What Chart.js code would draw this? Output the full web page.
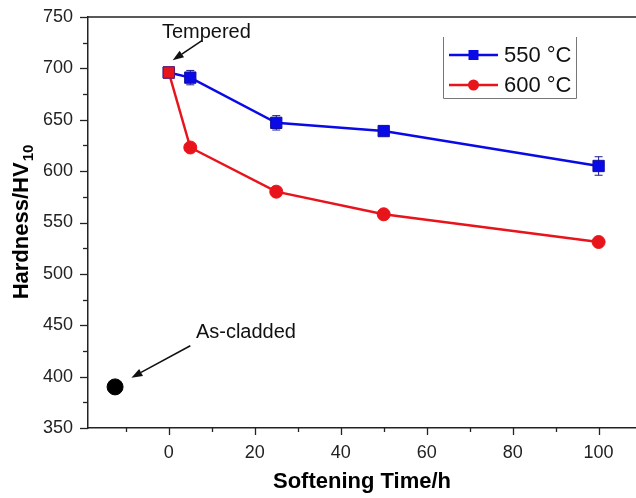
<!DOCTYPE html>
<html>
<head>
<meta charset="utf-8">
<script src="https://cdn.jsdelivr.net/npm/chart.js@4/dist/chart.umd.min.js"></script>
<style>
html,body{margin:0;padding:0;background:#fff;overflow:hidden;}
#wrap{width:636px;height:498px;position:relative;}
</style>
</head>
<body>
<div id="wrap"><canvas id="c" width="636" height="498"></canvas></div>
<script>
// ---- data ----
const softeningTime = [0, 5, 25, 50, 100];
const hardness550 = [696, 691, 647, 639, 605];
const error550 = [3, 7, 7, 3, 9];
const hardness600 = [696, 623, 580, 558, 531];
const error600 = [3, 3, 3, 3, 3];
const asCladdedTime = [-12.5];
const asCladdedHardness = [390];
const xTickLabels = [0, 20, 40, 60, 80, 100];
const yTickLabels = [350, 400, 450, 500, 550, 600, 650, 700, 750];
const seriesNames = ['550 °C', '600 °C'];
const xTitle = 'Softening Time/h';
const yTitleMain = 'Hardness/HV';
const yTitleSub = '10';
const noteTempered = 'Tempered';
const noteAsCladded = 'As-cladded';

const FONT = '"Liberation Sans", Arial, sans-serif';
const BLUE = '#0a0ae6';
const RED = '#e8141c';

const pts = (xs, ys) => xs.map((x, i) => ({x: x, y: ys[i]}));

function arrow(ctx, x1, y1, x2, y2) {
  const ang = Math.atan2(y2 - y1, x2 - x1);
  const hl = 11, hw = 4;
  const bx = x2 - hl * Math.cos(ang), by = y2 - hl * Math.sin(ang);
  ctx.beginPath();
  ctx.moveTo(x1, y1);
  ctx.lineTo(bx, by);
  ctx.stroke();
  ctx.beginPath();
  ctx.moveTo(x2, y2);
  ctx.lineTo(bx + hw * Math.sin(ang), by - hw * Math.cos(ang));
  ctx.lineTo(bx - hw * Math.sin(ang), by + hw * Math.cos(ang));
  ctx.closePath();
  ctx.fill();
}

const decorPlugin = {
  id: 'decor',
  beforeDatasetsDraw(chart) {
    const ctx = chart.ctx, xs = chart.scales.x, ys = chart.scales.y;
    ctx.save();
    ctx.lineWidth = 1;
    const sets = [[hardness550, error550, '#1c1c8c'], [hardness600, error600, '#8c1c1c']];
    sets.forEach(([vals, errs, col]) => {
      ctx.strokeStyle = col;
      vals.forEach((v, i) => {
        const px = xs.getPixelForValue(softeningTime[i]);
        const top = ys.getPixelForValue(v + errs[i]);
        const bot = ys.getPixelForValue(v - errs[i]);
        ctx.beginPath();
        ctx.moveTo(px, top); ctx.lineTo(px, bot);
        ctx.moveTo(px - 4, top); ctx.lineTo(px + 4, top);
        ctx.moveTo(px - 4, bot); ctx.lineTo(px + 4, bot);
        ctx.stroke();
      });
    });
    ctx.restore();
  },
  afterDraw(chart) {
    const ctx = chart.ctx, xs = chart.scales.x, ys = chart.scales.y, a = chart.chartArea;
    ctx.save();
    // frame top line
    ctx.strokeStyle = '#222';
    ctx.lineWidth = 1.5;
    ctx.beginPath();
    ctx.moveTo(a.left, a.top); ctx.lineTo(a.right, a.top);
    ctx.stroke();
    // tick marks
    ctx.lineWidth = 1.3;
    for (let v = 350; v <= 750; v += 25) {
      const py = Math.round(ys.getPixelForValue(v)) + 0.5;
      const len = (v % 50 === 0) ? 8 : 5;
      ctx.beginPath(); ctx.moveTo(a.left - len, py); ctx.lineTo(a.left, py); ctx.stroke();
    }
    for (let v = -10; v <= 100; v += 10) {
      const px = Math.round(xs.getPixelForValue(v)) + 0.5;
      const len = (v % 20 === 0) ? 7 : 4;
      ctx.beginPath(); ctx.moveTo(px, a.bottom); ctx.lineTo(px, a.bottom + len); ctx.stroke();
    }
    // y-axis title with subscript
    ctx.fillStyle = '#000';
    ctx.textBaseline = 'alphabetic';
    ctx.translate(28, (a.top + a.bottom) / 2);
    ctx.rotate(-Math.PI / 2);
    ctx.font = 'bold 22px ' + FONT;
    const w1 = ctx.measureText(yTitleMain).width;
    ctx.font = 'bold 15px ' + FONT;
    const w2 = ctx.measureText(yTitleSub).width;
    const start = -(w1 + w2) / 2;
    ctx.font = 'bold 22px ' + FONT;
    ctx.fillText(yTitleMain, start, 0);
    ctx.font = 'bold 15px ' + FONT;
    ctx.fillText(yTitleSub, start + w1 + 1, 5);
    ctx.restore();

    // annotations
    ctx.save();
    ctx.fillStyle = '#111';
    ctx.strokeStyle = '#111';
    ctx.lineWidth = 1.6;
    ctx.font = '20px ' + FONT;
    ctx.textBaseline = 'alphabetic';
    ctx.fillText(noteTempered, xs.getPixelForValue(-1.6), ys.getPixelForValue(730));
    arrow(ctx, xs.getPixelForValue(7.7), ys.getPixelForValue(727), xs.getPixelForValue(0.9), ys.getPixelForValue(708));
    ctx.fillText(noteAsCladded, xs.getPixelForValue(6.3), ys.getPixelForValue(438));
    arrow(ctx, xs.getPixelForValue(5.0), ys.getPixelForValue(430), xs.getPixelForValue(-8.7), ys.getPixelForValue(399));
    ctx.restore();

    // legend
    ctx.save();
    const L = 443, R = 576, T = 37, B = 98;
    ctx.strokeStyle = '#777';
    ctx.lineWidth = 1;
    ctx.beginPath();
    ctx.moveTo(L + 0.5, T); ctx.lineTo(L + 0.5, B + 0.5); ctx.lineTo(R + 0.5, B + 0.5); ctx.lineTo(R + 0.5, T);
    ctx.stroke();
    const rows = [[BLUE, 'rect', 55], [RED, 'circle', 85]];
    rows.forEach(([col, shape, y], i) => {
      ctx.strokeStyle = col; ctx.fillStyle = col; ctx.lineWidth = 2.5;
      ctx.beginPath(); ctx.moveTo(449, y); ctx.lineTo(498, y); ctx.stroke();
      if (shape === 'rect') {
        ctx.fillRect(473.5 - 5, y - 5, 10, 10);
      } else {
        ctx.beginPath(); ctx.arc(473.5, y, 5.5, 0, Math.PI * 2); ctx.fill();
      }
      ctx.fillStyle = '#111';
      ctx.font = '22px ' + FONT;
      ctx.textBaseline = 'middle';
      ctx.fillText(seriesNames[i], 504, y + 1);
    });
    ctx.restore();
  }
};

new Chart(document.getElementById('c'), {
  type: 'line',
  data: {
    datasets: [
      {
        label: 'As-cladded',
        data: pts(asCladdedTime, asCladdedHardness),
        showLine: false,
        pointStyle: 'circle',
        pointRadius: 8,
        pointBackgroundColor: '#000',
        pointBorderColor: '#000',
        order: 3
      },
      {
        label: seriesNames[0],
        data: pts(softeningTime, hardness550),
        borderColor: BLUE,
        borderWidth: 2.5,
        pointStyle: 'rect',
        pointRadius: 8,
        pointBackgroundColor: BLUE,
        pointBorderColor: '#1010a0',
        pointBorderWidth: 1,
        tension: 0,
        order: 2
      },
      {
        label: seriesNames[1],
        data: pts(softeningTime, hardness600),
        borderColor: RED,
        borderWidth: 2.5,
        pointStyle: ['rect', 'circle', 'circle', 'circle', 'circle'],
        pointRadius: [8, 6.5, 6.5, 6.5, 6.5],
        pointBackgroundColor: RED,
        pointBorderColor: ['#6a1a60', RED, RED, RED, RED],
        pointBorderWidth: 1,
        tension: 0,
        order: 1
      }
    ]
  },
  options: {
    responsive: false,
    animation: false,
    events: [],
    layout: {autoPadding: false, padding: {top: 17, right: 0, left: 0, bottom: 0}},
    plugins: {legend: {display: false}, tooltip: {enabled: false}},
    scales: {
      x: {
        type: 'linear',
        min: -18.8,
        max: 108.7,
        afterBuildTicks: s => { s.ticks = xTickLabels.map(v => ({value: v})); },
        afterFit: s => { s.height = 70; s.paddingRight = 0; s.paddingLeft = 0; },
        grid: {display: true, drawOnChartArea: false, drawTicks: true, tickLength: 7, tickColor: 'rgba(0,0,0,0)'},
        border: {display: true, color: '#222', width: 1.5},
        ticks: {font: {family: FONT, size: 18}, color: '#222', padding: 7, maxRotation: 0, autoSkip: false},
        title: {display: true, text: xTitle, font: {family: FONT, size: 22, weight: 'bold'}, color: '#000', padding: {top: 0, bottom: 3}}
      },
      y: {
        type: 'linear',
        min: 350,
        max: 750,
        afterBuildTicks: s => { s.ticks = yTickLabels.map(v => ({value: v})); },
        afterFit: s => { s.width = 88; s.paddingTop = 0; s.paddingBottom = 0; },
        grid: {display: true, drawOnChartArea: false, drawTicks: true, tickLength: 8, tickColor: 'rgba(0,0,0,0)'},
        border: {display: true, color: '#222', width: 1.5},
        ticks: {font: {family: FONT, size: 18}, color: '#222', padding: 7, autoSkip: false}
      }
    }
  },
  plugins: [decorPlugin]
});
</script>
</body>
</html>
